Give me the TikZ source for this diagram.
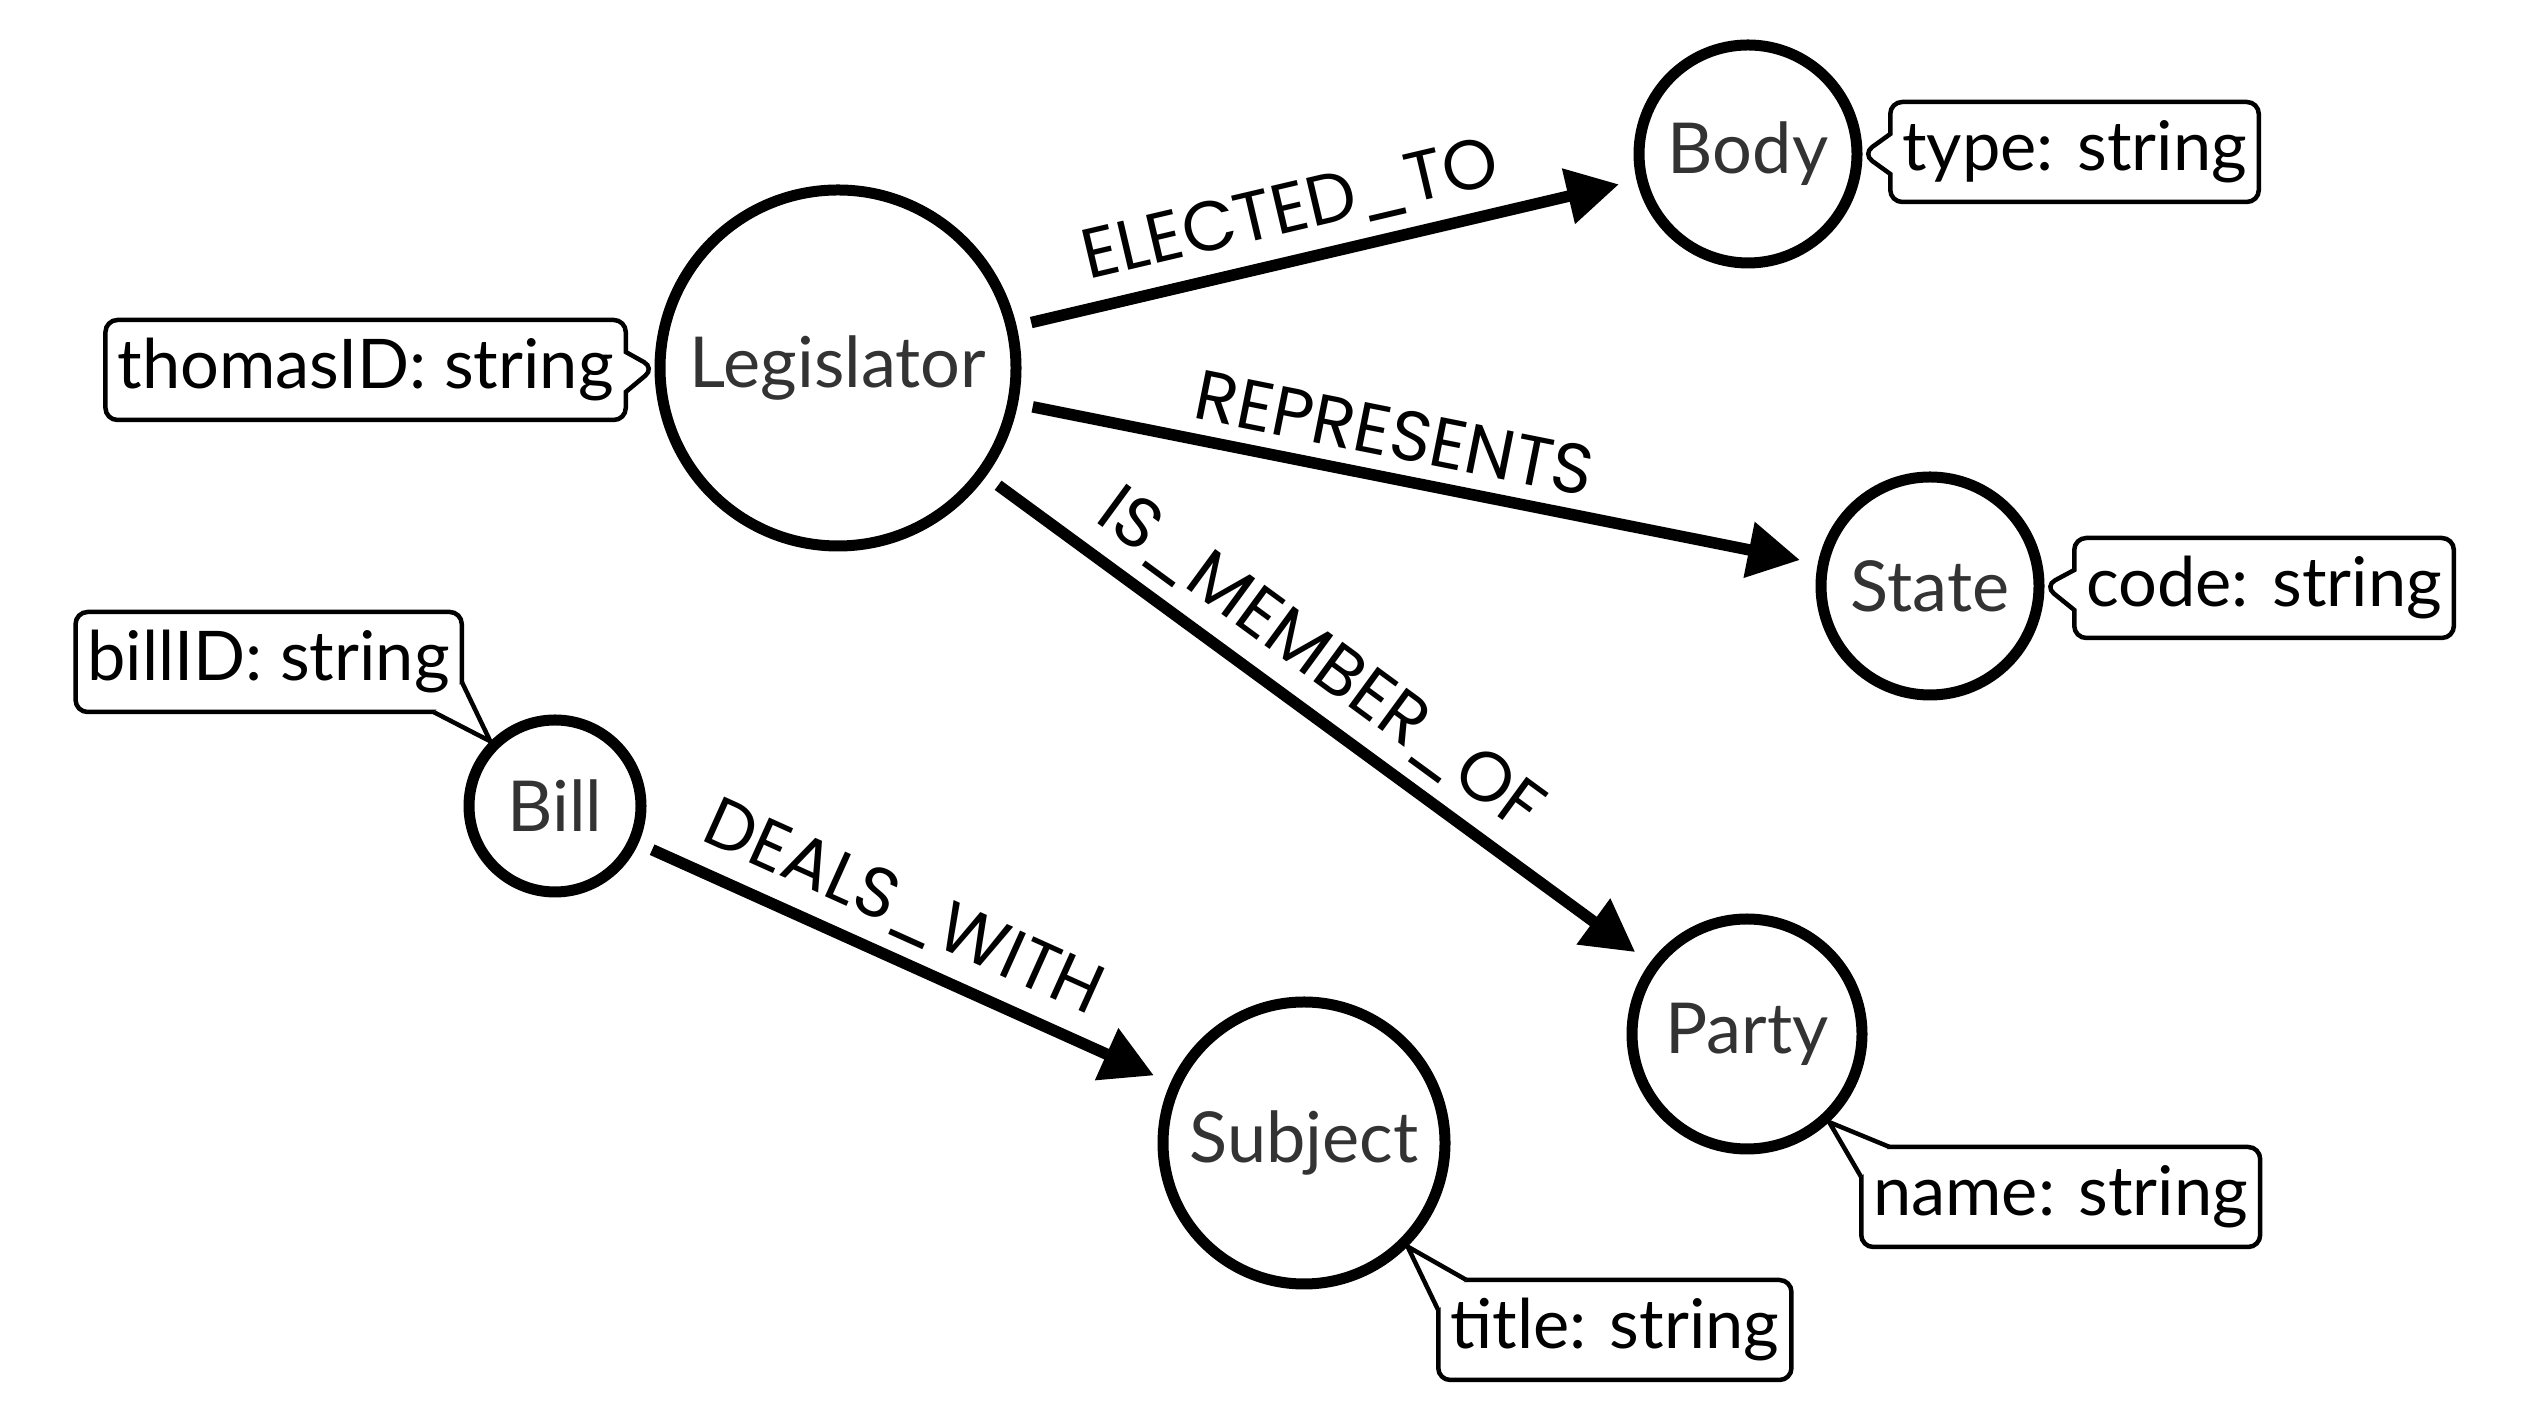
\documentclass[tikz,border=0pt]{standalone}
\usepackage{fontspec}
\setmainfont{Lato}
\newfontfamily\relfont{Poppins}
\usetikzlibrary{arrows.meta,shapes.callouts}
\definecolor{nodetext}{HTML}{333333}

\begin{document}
\begin{tikzpicture}[
  entity/.style={circle, draw, line width=0.11cm, text=nodetext, font=\fontsize{20}{24}\selectfont, inner sep=0pt},
  propbox/.style={rectangle, draw, fill=white, line width=0.045cm, rounded corners=0.12cm, font=\fontsize{19.5}{24}\selectfont, inner xsep=0.12cm, minimum height=1.0cm},
  prop/.style={propbox, rectangle callout, callout pointer width=0.4cm},
  pointer/.style={draw, fill=white, line width=0.045cm, line join=miter},
  rel/.style={line width=0.115cm, -{Triangle[length=0.52cm,width=0.54cm]}, shorten <=0.15cm, shorten >=0.18cm},
  rellabel/.style={above, sloped, pos=0.46, font=\relfont\fontsize{20}{24}\selectfont, inner sep=4pt}
]
\useasboundingbox (0,0) rectangle (25.24,14.18);
% Entities
\node[entity, minimum size=3.56cm] (leg) at (8.38,10.50) {Legislator};
\node[entity, minimum size=2.18cm] (body) at (17.48,12.64) {Body};
\node[entity, minimum size=2.18cm] (state) at (19.30,8.32) {State};
\node[entity, minimum size=2.30cm] (party) at (17.47,3.84) {Party};
\node[entity, minimum size=2.82cm] (subject) at (13.04,2.75) {Subject};
\node[entity, minimum size=1.72cm] (bill) at (5.55,6.12) {Bill};
% Properties
\node[prop, anchor=east, callout absolute pointer={(leg.west)}] (legprop) at (6.28,10.48) {thomasID: string};
\node[prop, anchor=west, callout absolute pointer={(body.east)}] (bodyprop) at (18.88,12.66) {type: string};
\node[prop, anchor=west, callout absolute pointer={(state.east)}] (stateprop) at (20.72,8.30) {code: string};
\node[propbox, anchor=east] (billprop) at (4.64,7.56) {billID: string};
\node[propbox, anchor=west] (partyprop) at (18.59,2.21) {name: string};
\node[propbox, anchor=west] (subjectprop) at (14.36,0.88) {title: string};
% corner pointers
\filldraw[pointer] ([xshift=-0.3cm,yshift=0.02cm]billprop.south east) -- (bill.135) -- ([xshift=-0.02cm,yshift=0.32cm]billprop.south east);
\filldraw[pointer] ([xshift=0.3cm,yshift=-0.02cm]partyprop.north west) -- (party.-47) -- ([xshift=0.02cm,yshift=-0.32cm]partyprop.north west);
\filldraw[pointer] ([xshift=0.3cm,yshift=-0.02cm]subjectprop.north west) -- (subject.-45) -- ([xshift=0.02cm,yshift=-0.32cm]subjectprop.north west);
% Relationships
\draw[rel] (leg) -- (body) node[rellabel] {ELECTED\_TO};
\draw[rel] (leg) -- (state) node[rellabel] {REPRESENTS};
\draw[rel] (leg) -- (party) node[rellabel] {IS\_MEMBER\_OF};
\draw[rel] (bill) -- (subject) node[rellabel] {DEALS\_WITH};
\end{tikzpicture}
\end{document}
